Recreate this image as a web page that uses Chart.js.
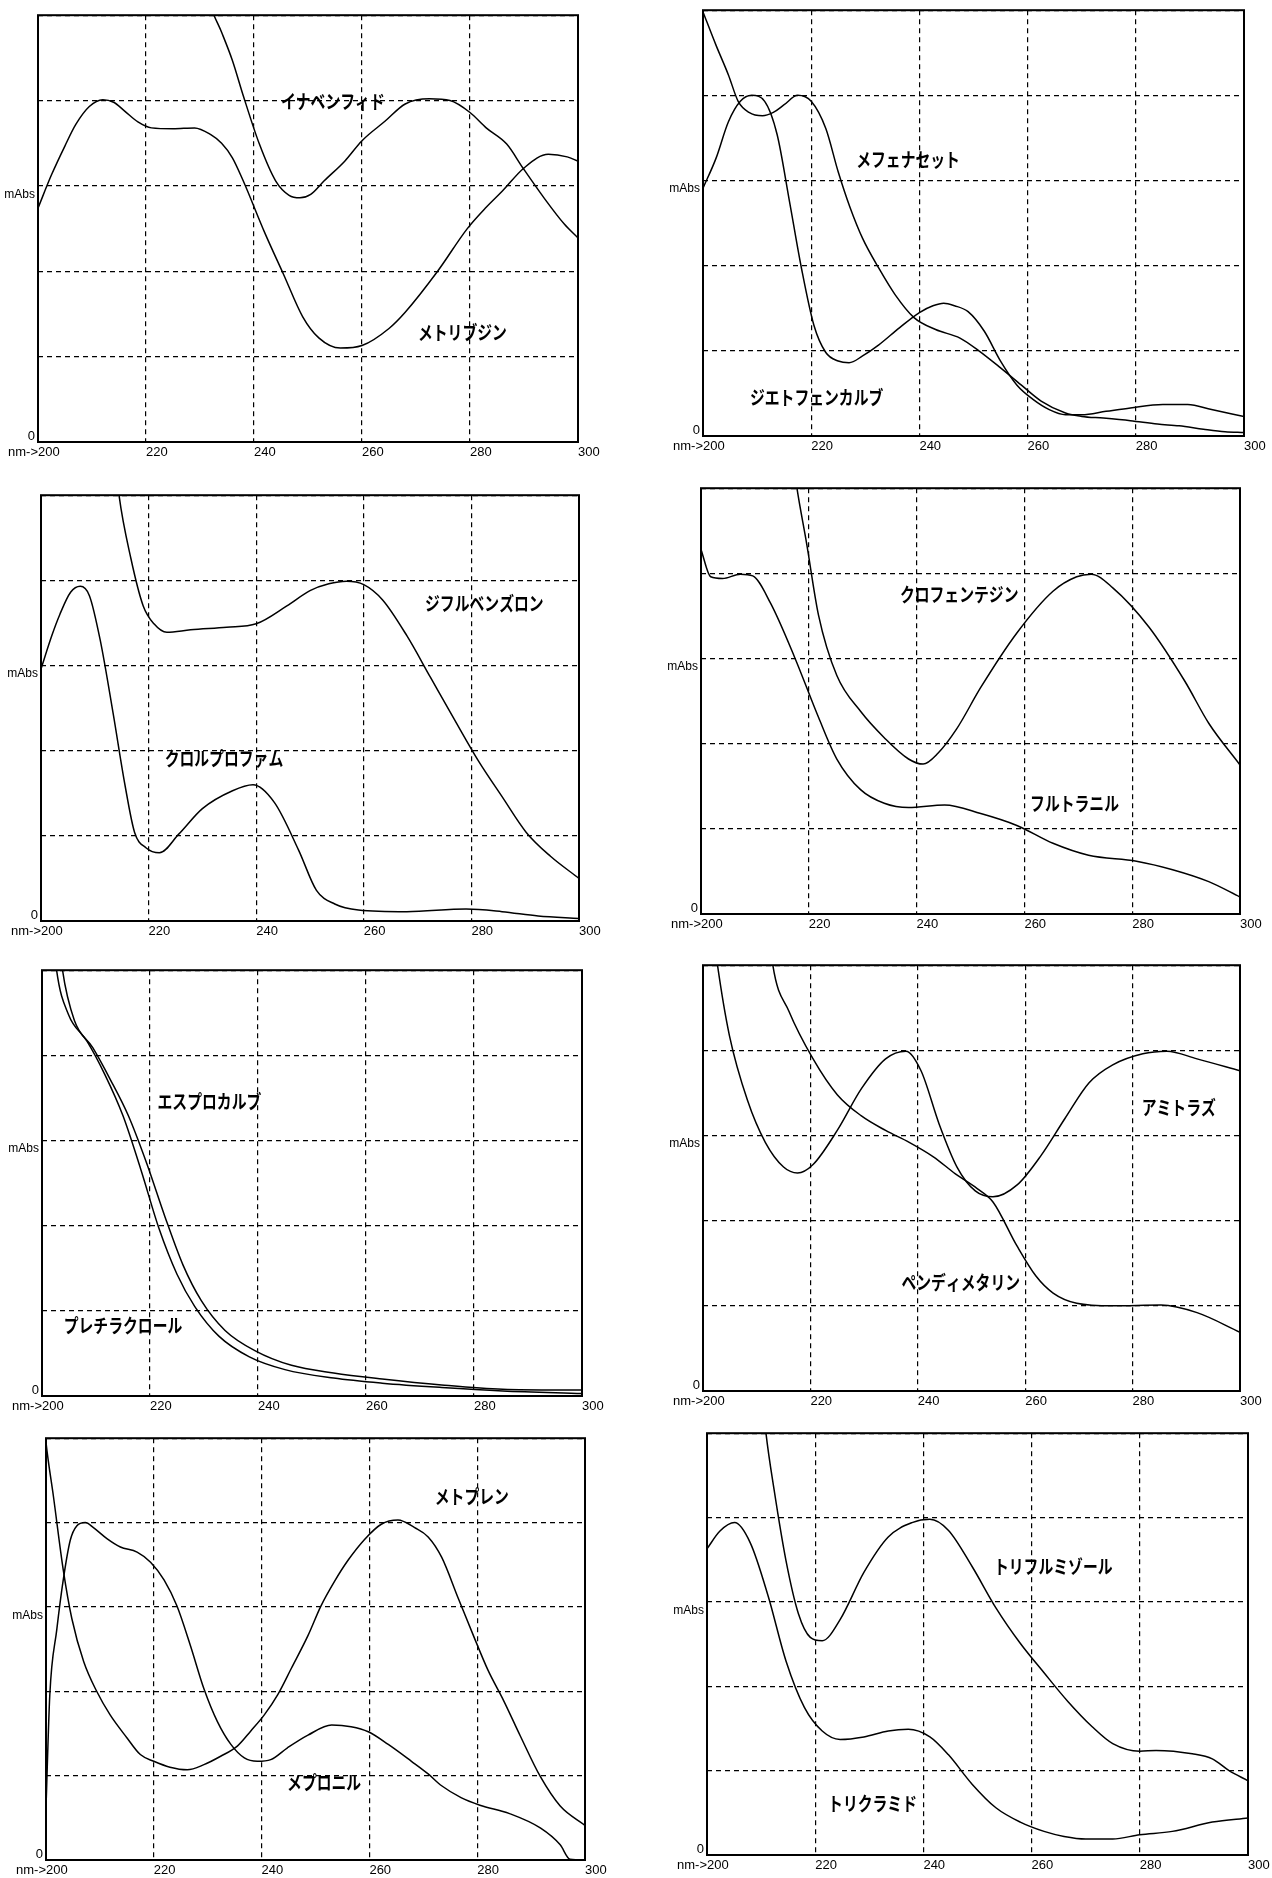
<!DOCTYPE html>
<html>
<head>
<meta charset="utf-8">
<script src="https://cdn.jsdelivr.net/npm/chart.js@4.4.1/dist/chart.umd.min.js"></script>
<style>
html, body { margin: 0; padding: 0; background: #fff; }
body { width: 1272px; height: 1878px; position: relative; overflow: hidden; }
.panel { position: absolute; }
</style>
</head>
<body>
<script>
// UV spectra, wavelength (nm) -> absorbance in grid units (0..5)
const inabenfide = [[228,6.2],[230,5.6],[232,5.1],[234,4.8],[236,4.47],[238,4.06],[241,3.49],[244,3.06],[246.5,2.89],[248.5,2.86],[250.5,2.9],[253,3.06],[256.8,3.29],[260,3.53],[264.3,3.76],[268,3.96],[272.5,4.02],[276.3,4.0],[280,3.86],[283,3.68],[286.8,3.49],[289.8,3.21],[293.7,2.86],[297.5,2.55],[300,2.39]];
const metribuzin = [[200,2.74],[202.5,3.13],[205,3.47],[207,3.72],[209.5,3.93],[212,4.01],[214,3.98],[216,3.88],[218.5,3.75],[221,3.68],[225,3.67],[229,3.68],[232,3.6],[234,3.5],[236,3.33],[238,3.06],[242,2.45],[245.5,1.96],[249,1.47],[252,1.22],[256,1.1],[260,1.13],[265,1.33],[268,1.52],[274,2.0],[279.5,2.5],[283,2.75],[286,2.94],[290,3.21],[294.5,3.37],[298,3.34],[300,3.29]];

const mefenacet = [[200,4.98],[202.4,4.59],[204.7,4.24],[206.5,3.93],[208.5,3.8],[211,3.76],[213,3.8],[215,3.89],[217.5,4.0],[220,3.93],[222.7,3.61],[225,3.1],[227.2,2.68],[229.5,2.32],[232.5,1.97],[235.5,1.66],[239,1.39],[243,1.25],[247.5,1.15],[251,1.0],[255,0.8],[258.8,0.6],[262.5,0.41],[267,0.27],[270,0.23],[274,0.21],[279,0.18],[284,0.14],[288,0.12],[292.5,0.08],[296.5,0.05],[300,0.04]];
const diethofencarb = [[200,2.91],[202.4,3.26],[204.7,3.69],[206.9,3.93],[209,4.0],[211.4,3.93],[213.7,3.54],[216,2.75],[218.2,1.97],[220.5,1.3],[222.7,0.98],[225,0.88],[227,0.86],[229.5,0.94],[232.5,1.07],[236.3,1.27],[240,1.45],[242.5,1.53],[244.5,1.56],[246.5,1.53],[249,1.46],[252,1.23],[255,0.88],[258,0.6],[261,0.43],[264,0.31],[267,0.25],[270,0.25],[274.5,0.29],[279,0.33],[285,0.37],[289.6,0.37],[294,0.31],[300,0.23]];

const diflubenzuron = [[213.5,5.6],[214.5,5.0],[216.7,4.26],[219,3.7],[221,3.49],[223.4,3.39],[227.8,3.42],[234.5,3.45],[240,3.49],[245.7,3.7],[250,3.88],[253.5,3.96],[256.8,3.99],[260,3.95],[263.5,3.77],[268,3.35],[272.4,2.86],[276.8,2.37],[281.3,1.88],[285.7,1.46],[290.2,1.04],[294.7,0.76],[300,0.5]];
const chlorpropham = [[200,2.96],[202,3.35],[203.5,3.6],[205.5,3.86],[207.3,3.93],[209,3.82],[211,3.3],[213.4,2.44],[215.6,1.6],[217.4,1.04],[219.5,0.86],[222,0.8],[225.6,1.02],[230,1.32],[235.6,1.53],[239.4,1.6],[243.4,1.39],[247.9,0.83],[251.2,0.36],[254.6,0.2],[259,0.13],[268,0.11],[279,0.14],[285.7,0.11],[292.4,0.06],[300,0.03]];

const clofentezine = [[216.5,5.6],[217.8,5.0],[219.6,4.35],[221.8,3.51],[225.2,2.8],[229.6,2.38],[234,2.07],[238.5,1.82],[241.2,1.76],[244,1.89],[247.4,2.17],[251.9,2.66],[258.6,3.3],[265.3,3.79],[269.7,3.96],[272.4,3.99],[276.4,3.83],[283.1,3.37],[289.8,2.73],[294.2,2.24],[300,1.75]];
const flutolanil = [[200,4.28],[201.8,3.96],[204,3.94],[207.3,3.99],[209.6,3.97],[212.9,3.65],[217.4,3.01],[221.8,2.31],[225.2,1.82],[229.6,1.46],[234,1.3],[238.5,1.25],[245.2,1.28],[251.9,1.18],[258.6,1.04],[265.3,0.83],[271.9,0.69],[280.8,0.62],[287.5,0.52],[294.2,0.38],[300,0.2]];

const esprocarb = [[202.5,5.8],[203.8,5.0],[206,4.41],[209.4,4.09],[212.7,3.71],[216,3.29],[219.4,2.73],[222.8,2.1],[226.1,1.54],[229.5,1.12],[233.9,0.77],[239.5,0.53],[246.2,0.36],[254,0.27],[263,0.2],[274,0.13],[285.3,0.08],[300,0.07]];
const pretilachlor = [[201.5,5.8],[202.7,5.0],[204.9,4.48],[208.3,4.17],[211.6,3.78],[215,3.29],[218.3,2.66],[221.7,1.96],[225,1.43],[228.3,1.05],[232.8,0.7],[238.4,0.46],[245,0.31],[254,0.21],[263,0.15],[274,0.1],[285.3,0.06],[300,0.03]];

const amitraz = [[201.5,5.6],[202.7,5.0],[204.9,4.18],[208.3,3.41],[211.6,2.92],[215,2.63],[217.6,2.56],[220.5,2.66],[225,3.06],[229.5,3.55],[234,3.9],[237.8,3.99],[240.6,3.76],[244,3.13],[247.3,2.63],[250.7,2.35],[254,2.28],[258.5,2.42],[263,2.77],[267.4,3.2],[271.9,3.62],[276.3,3.83],[281.9,3.96],[286.4,3.99],[292,3.9],[300,3.76]];
const pendimethalin = [[212,5.6],[213,5.0],[216,4.46],[220.5,3.9],[225,3.48],[229.5,3.23],[234,3.06],[238.4,2.92],[242.9,2.75],[247,2.55],[251,2.38],[254,2.22],[258.5,1.7],[262,1.35],[265.2,1.15],[269.6,1.03],[276.3,1.0],[285.3,1.01],[292,0.92],[300,0.69]];

const methoprene = [[199.5,5.3],[200,4.95],[201.4,4.3],[203.2,3.44],[204.8,2.86],[207,2.35],[209.4,2.0],[211.9,1.72],[215,1.45],[217.5,1.25],[220,1.17],[223,1.1],[226.2,1.07],[229.3,1.13],[232.4,1.23],[235.5,1.35],[238,1.53],[240.5,1.72],[243,1.96],[245.5,2.27],[248.6,2.66],[251,3.01],[253.5,3.3],[256,3.55],[259.1,3.8],[262.2,3.98],[265.3,4.03],[268.4,3.94],[270.9,3.83],[273.4,3.59],[276.5,3.1],[279.3,2.66],[282,2.25],[284.9,1.89],[288,1.47],[291.7,0.99],[295.4,0.64],[300,0.41]];
const mepronil = [[200,0.62],[200.7,1.95],[202,2.73],[203.2,3.32],[204.5,3.79],[205.7,3.96],[207.3,4.0],[208.8,3.94],[211.3,3.81],[213.8,3.71],[216.9,3.65],[219.4,3.53],[221.9,3.32],[224.3,3.01],[226.8,2.54],[229.3,2.03],[231.8,1.64],[234.3,1.37],[236.8,1.21],[239.2,1.17],[241.7,1.19],[244.8,1.33],[248.6,1.48],[253,1.6],[256.6,1.58],[259.8,1.52],[263.5,1.37],[267.8,1.17],[270.9,1.02],[273.4,0.88],[277,0.74],[280.5,0.65],[286,0.55],[291.7,0.38],[295.4,0.18],[297.2,0.01],[300,0.0]];

const triflumizole = [[210,5.6],[210.9,5.0],[212.4,4.33],[214.6,3.49],[216.9,2.86],[219.1,2.58],[221.3,2.54],[224.6,2.79],[229,3.35],[233.5,3.77],[237.9,3.94],[241.2,3.98],[244.6,3.85],[249,3.42],[253.4,2.93],[257.9,2.51],[262.3,2.16],[266.7,1.82],[271.2,1.52],[275,1.32],[280,1.23],[283,1.24],[289.7,1.2],[293.4,1.14],[296.5,1.0],[300,0.88]];
const trichlamide = [[200,3.63],[202.4,3.84],[205.1,3.94],[208,3.7],[211.3,3.07],[214.6,2.3],[218,1.75],[221.3,1.47],[224.6,1.37],[229,1.4],[233.5,1.47],[237.2,1.49],[241.2,1.4],[244.6,1.19],[249,0.84],[253.4,0.56],[257.9,0.39],[262.3,0.28],[266,0.22],[270,0.19],[275,0.19],[280,0.24],[286,0.28],[293.4,0.39],[300,0.44]];

// axis text
const yTickAt = [0.07, 2.9];
const yTickLabels = ['0', 'mAbs'];
const xPrefix = 'nm->';

const panels = [
  { frame: { l: 38, t: 13, r: 578, b: 442 },
    series: [['イナベンフィド', inabenfide], ['メトリブジン', metribuzin]],
    tags: [['イナベンフィド', 254.6, 3.98], ['メトリブジン', 278.6, 1.28]] },
  { frame: { l: 703, t: 8, r: 1244, b: 436 },
    series: [['メフェナセット', mefenacet], ['ジエトフェンカルブ', diethofencarb]],
    tags: [['メフェナセット', 237.9, 3.24], ['ジエトフェンカルブ', 221, 0.45]] },
  { frame: { l: 41, t: 493, r: 579, b: 921 },
    series: [['ジフルベンズロン', diflubenzuron], ['クロルプロファム', chlorpropham]],
    tags: [['ジフルベンズロン', 282.4, 3.73], ['クロルプロファム', 234, 1.9]] },
  { frame: { l: 701, t: 486, r: 1240, b: 914 },
    series: [['クロフェンテジン', clofentezine], ['フルトラニル', flutolanil]],
    tags: [['クロフェンテジン', 247.9, 3.75], ['フルトラニル', 269.3, 1.3]] },
  { frame: { l: 42, t: 968, r: 582, b: 1396 },
    series: [['エスプロカルブ', esprocarb], ['プレチラクロール', pretilachlor]],
    tags: [['エスプロカルブ', 231, 3.45], ['プレチラクロール', 215, 0.83]] },
  { frame: { l: 703, t: 963, r: 1240, b: 1391 },
    series: [['アミトラズ', amitraz], ['ペンディメタリン', pendimethalin]],
    tags: [['アミトラズ', 288.6, 3.32], ['ペンディメタリン', 248, 1.27]] },
  { frame: { l: 46, t: 1436, r: 585, b: 1860 },
    series: [['メトプレン', methoprene], ['メプロニル', mepronil]],
    tags: [['メトプレン', 279, 4.3], ['メプロニル', 251.6, 0.91]] },
  { frame: { l: 707, t: 1431, r: 1248, b: 1855 },
    series: [['トリフルミゾール', triflumizole], ['トリクラミド', trichlamide]],
    tags: [['トリフルミゾール', 264, 3.42], ['トリクラミド', 230.6, 0.61]] }
];

const PAD_L = 40, PAD_T = 8, PAD_R = 32, PAD_B = 26;
const tickFont = '"Liberation Sans", Arial, sans-serif';

// solid frame round the plot and the "nm->" in front of the first x label
const framePlugin = {
  id: 'frame',
  afterDraw(chart) {
    const a = chart.chartArea;
    const ctx = chart.ctx;
    ctx.save();
    ctx.strokeStyle = '#000';
    ctx.lineWidth = 2;
    ctx.strokeRect(a.left, a.top, a.right - a.left, a.bottom - a.top);
    ctx.fillStyle = '#000';
    ctx.font = '13px ' + tickFont;
    ctx.textAlign = 'right';
    ctx.textBaseline = 'middle';
    ctx.fillText(xPrefix, a.left, a.bottom + 3 + 7.8);
    ctx.restore();
  }
};

function namesPlugin(tags) {
  return {
    id: 'names',
    afterDatasetsDraw(chart) {
      const ctx = chart.ctx;
      const xs = chart.scales.x, ys = chart.scales.y;
      ctx.save();
      ctx.fillStyle = '#000';
      ctx.font = 'bold 19px "Noto Sans CJK JP", sans-serif';
      ctx.textAlign = 'center';
      ctx.textBaseline = 'middle';
      tags.forEach(([text, nm, v]) => {
        ctx.save();
        ctx.translate(xs.getPixelForValue(nm), ys.getPixelForValue(v));
        ctx.scale(0.78, 1);
        ctx.fillText(text, 0, 0);
        ctx.restore();
      });
      ctx.restore();
    }
  };
}

panels.forEach(p => {
  const f = p.frame;
  const div = document.createElement('div');
  div.className = 'panel';
  div.style.left = (f.l - PAD_L) + 'px';
  div.style.top = (f.t - PAD_T) + 'px';
  div.style.width = (f.r - f.l + PAD_L + PAD_R) + 'px';
  div.style.height = (f.b - f.t + PAD_T + PAD_B) + 'px';
  const cv = document.createElement('canvas');
  div.appendChild(cv);
  document.body.appendChild(div);

  new Chart(cv, {
    type: 'line',
    data: {
      datasets: p.series.map(([name, pts]) => ({
        label: name,
        data: pts.map(([x, y]) => ({ x, y })),
        borderColor: '#000',
        borderWidth: 1.5,
        pointRadius: 0,
        fill: false,
        cubicInterpolationMode: 'monotone'
      }))
    },
    options: {
      responsive: true,
      maintainAspectRatio: false,
      animation: false,
      devicePixelRatio: 1,
      layout: { padding: { top: PAD_T, right: PAD_R, left: 0, bottom: 0 } },
      plugins: { legend: { display: false }, tooltip: { enabled: false } },
      scales: {
        x: {
          type: 'linear', min: 200, max: 300,
          afterFit: a => { a.height = PAD_B; },
          grid: { color: '#000', lineWidth: 1.2, drawTicks: false },
          border: { display: false, dash: [5, 4] },
          ticks: {
            stepSize: 20, align: 'start', maxRotation: 0, autoSkip: false,
            padding: 3, color: '#000', font: { family: tickFont, size: 13 }
          }
        },
        y: {
          min: 0, max: 5,
          afterFit: a => { a.width = 0; },
          grid: { color: '#000', lineWidth: 1.2, drawTicks: false },
          border: { display: false, dash: [5, 4] },
          ticks: { stepSize: 1, display: false }
        },
        yl: {
          position: 'left', min: 0, max: 5,
          afterFit: a => { a.width = PAD_L; },
          afterBuildTicks: a => { a.ticks = yTickAt.map(v => ({ value: v })); },
          grid: { display: false, drawTicks: false },
          border: { display: false },
          ticks: {
            autoSkip: false, padding: 3, color: '#000',
            callback: (v, i) => yTickLabels[i],
            font: c => (c.tick && c.tick.value > 1)
              ? { family: '"Liberation Sans Narrow", ' + tickFont, size: 12 }
              : { family: tickFont, size: 13 }
          }
        }
      }
    },
    plugins: [framePlugin, namesPlugin(p.tags)]
  });
});
</script>
</body>
</html>
